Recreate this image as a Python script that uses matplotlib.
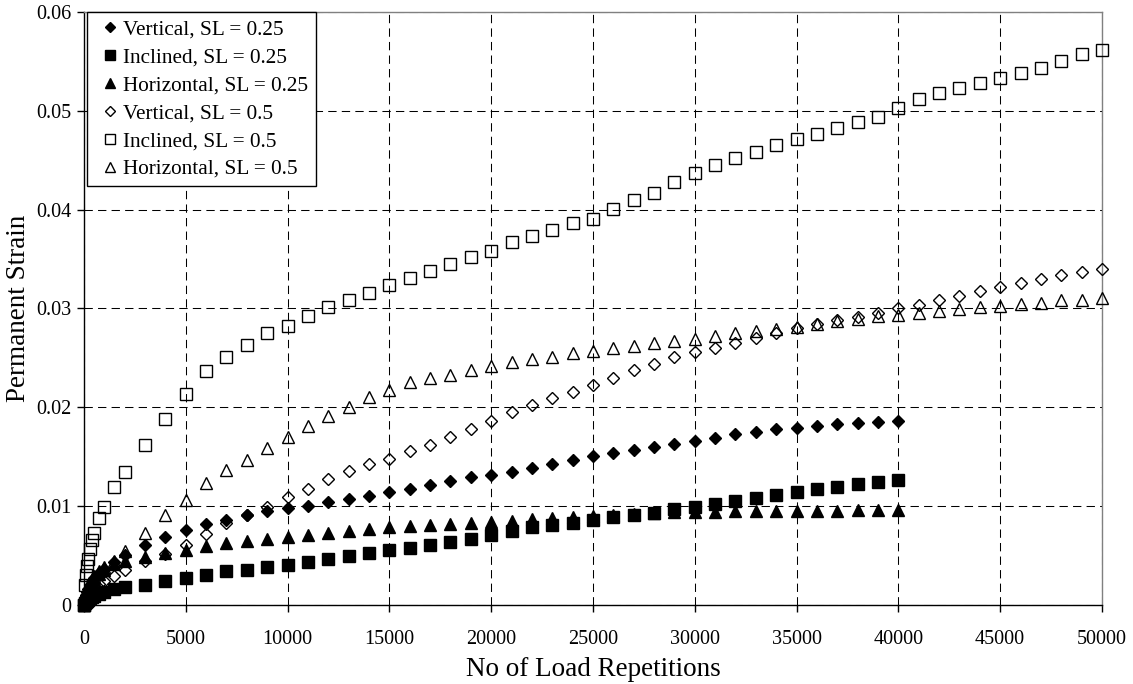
import matplotlib
matplotlib.use("Agg")
import matplotlib.pyplot as plt

plt.rcParams['font.family'] = ['Liberation Serif', 'DejaVu Serif']

############## Load repetitions ##############
reps = [0, 50, 100, 150, 200, 300, 400, 500, 750, 1000, 1500, 2000,
        3000, 4000, 5000, 6000, 7000, 8000, 9000, 10000,
        11000, 12000, 13000, 14000, 15000, 16000, 17000, 18000, 19000, 20000,
        21000, 22000, 23000, 24000, 25000, 26000, 27000, 28000, 29000, 30000,
        31000, 32000, 33000, 34000, 35000, 36000, 37000, 38000, 39000, 40000,
        41000, 42000, 43000, 44000, 45000, 46000, 47000, 48000, 49000, 50000]
reps_025 = reps[:50]   # SL = 0.25 tests stopped at 40000

############## Permanent strain, SL = 0.25 ##############
vert_025 = [0, 0.0006, 0.0010, 0.0013, 0.0016, 0.0020, 0.0024, 0.0027, 0.0032, 0.0036, 0.0044, 0.0051,
            0.0061, 0.0069, 0.0076, 0.0082, 0.0086, 0.0091, 0.0095, 0.0098,
            0.0100, 0.0104, 0.0107, 0.0110, 0.0114, 0.0117, 0.0121, 0.0125, 0.0129, 0.0132,
            0.0135, 0.0139, 0.0143, 0.0147, 0.0151, 0.0154, 0.0157, 0.0160, 0.0163, 0.0166,
            0.0169, 0.0173, 0.0175, 0.0178, 0.0179, 0.0181, 0.0183, 0.0184, 0.0185, 0.0186]
incl_025 = [0, 0.0002, 0.0003, 0.0004, 0.0005, 0.0007, 0.0008, 0.0009, 0.0011, 0.0013, 0.0016, 0.0018,
            0.0020, 0.0024, 0.0027, 0.0030, 0.0034, 0.0035, 0.0038, 0.0040,
            0.0044, 0.0047, 0.0050, 0.0053, 0.0056, 0.0058, 0.0061, 0.0064, 0.0067, 0.0071,
            0.0075, 0.0079, 0.0081, 0.0083, 0.0086, 0.0089, 0.0091, 0.0093, 0.0097, 0.0099,
            0.0102, 0.0105, 0.0108, 0.0111, 0.0114, 0.0117, 0.0119, 0.0122, 0.0124, 0.0126]
horz_025 = [0, 0.0006, 0.0010, 0.0013, 0.0016, 0.0020, 0.0023, 0.0026, 0.0031, 0.0035, 0.0041, 0.0045,
            0.0049, 0.0053, 0.0056, 0.0060, 0.0063, 0.0065, 0.0067, 0.0069,
            0.0071, 0.0073, 0.0075, 0.0077, 0.0079, 0.0080, 0.0081, 0.0082, 0.0083, 0.0084,
            0.0085, 0.0087, 0.0088, 0.0089, 0.0090, 0.0091, 0.0092, 0.0093, 0.0094, 0.0094,
            0.0094, 0.0095, 0.0095, 0.0095, 0.0095, 0.0095, 0.0095, 0.0096, 0.0096, 0.0096]

############## Permanent strain, SL = 0.5 ##############
vert_05 = [0, 0.0004, 0.0007, 0.0009, 0.0011, 0.0014, 0.0016, 0.0018, 0.0021, 0.0024, 0.0029, 0.0035,
           0.0045, 0.0052, 0.0061, 0.0072, 0.0083, 0.0091, 0.0099, 0.0109,
           0.0117, 0.0127, 0.0136, 0.0143, 0.0148, 0.0156, 0.0162, 0.0170, 0.0178, 0.0186,
           0.0195, 0.0202, 0.0209, 0.0216, 0.0223, 0.0230, 0.0238, 0.0244, 0.0251, 0.0256,
           0.0260, 0.0265, 0.0270, 0.0275, 0.0280, 0.0284, 0.0288, 0.0291, 0.0295, 0.0300,
           0.0304, 0.0309, 0.0313, 0.0318, 0.0322, 0.0326, 0.0330, 0.0334, 0.0337, 0.0340]
incl_05 = [0, 0.0020, 0.0030, 0.0039, 0.0047, 0.0057, 0.0066, 0.0073, 0.0088, 0.0099, 0.0119, 0.0135,
           0.0162, 0.0188, 0.0213, 0.0237, 0.0251, 0.0263, 0.0275, 0.0282,
           0.0292, 0.0301, 0.0309, 0.0316, 0.0324, 0.0331, 0.0338, 0.0345, 0.0352, 0.0358,
           0.0367, 0.0373, 0.0379, 0.0386, 0.0391, 0.0401, 0.0410, 0.0417, 0.0428, 0.0437,
           0.0445, 0.0452, 0.0458, 0.0465, 0.0471, 0.0477, 0.0483, 0.0489, 0.0494, 0.0503,
           0.0512, 0.0518, 0.0523, 0.0528, 0.0533, 0.0538, 0.0543, 0.0550, 0.0557, 0.0562]
horz_05 = [0, 0.0008, 0.0012, 0.0015, 0.0018, 0.0022, 0.0026, 0.0029, 0.0034, 0.0038, 0.0045, 0.0055,
           0.0073, 0.0091, 0.0106, 0.0123, 0.0137, 0.0147, 0.0159, 0.0170,
           0.0181, 0.0191, 0.0200, 0.0210, 0.0218, 0.0226, 0.0230, 0.0233, 0.0238, 0.0242,
           0.0246, 0.0249, 0.0251, 0.0255, 0.0257, 0.0260, 0.0262, 0.0265, 0.0267, 0.0269,
           0.0272, 0.0275, 0.0277, 0.0279, 0.0281, 0.0284, 0.0287, 0.0289, 0.0292, 0.0293,
           0.0295, 0.0297, 0.0299, 0.0301, 0.0303, 0.0305, 0.0306, 0.0309, 0.0309, 0.0311]

labels = ['Vertical, SL = 0.25', 'Inclined, SL = 0.25', 'Horizontal, SL = 0.25',
          'Vertical, SL = 0.5', 'Inclined, SL = 0.5', 'Horizontal, SL = 0.5']

#################### Generate Plot #############################
fig = plt.figure(figsize=(11.33, 6.84), dpi=100)
ax = fig.add_axes([0.0741, 0.1155, 0.8985, 0.867])

series = [
    (reps_025, vert_025, 'D', 6.5, 'black'),
    (reps_025, incl_025, 's', 8.0, 'black'),
    (reps_025, horz_025, '^', 8.5, 'black'),
    (reps, vert_05, 'D', 6.5, 'none'),
    (reps, incl_05, 's', 8.0, 'none'),
    (reps, horz_05, '^', 8.5, 'none'),
]
for (xs, ys, mk, ms, fc), lab in zip(series, labels):
    ax.plot(xs, ys, linestyle='none', marker=mk, markersize=ms,
            markerfacecolor=fc, markeredgecolor='black', markeredgewidth=1.0,
            label=lab, clip_on=False, zorder=3)

ax.set_xlim(0, 50000)
ax.set_ylim(0, 0.06)
ax.set_xticks(range(0, 50001, 5000))
ax.set_yticks([0, 0.01, 0.02, 0.03, 0.04, 0.05, 0.06])
ax.set_yticklabels(['0', '0.01', '0.02', '0.03', '0.04', '0.05', '0.06'])

ax.grid(True, color='black', linestyle=(0, (8, 5)), linewidth=0.75)
ax.set_axisbelow(True)

for side in ['left', 'bottom']:
    ax.spines[side].set_color('black')
    ax.spines[side].set_linewidth(1.0)
for side in ['top', 'right']:
    ax.spines[side].set_color('#808080')
    ax.spines[side].set_linewidth(1.0)

ax.tick_params(direction='out', length=5, width=1.0, labelsize=14.5)
ax.tick_params(axis='x', pad=13)
ax.tick_params(axis='y', pad=4)

ax.set_xlabel('No of Load Repetitions', fontsize=19.5, labelpad=6)
ax.set_ylabel('Permanent Strain', fontsize=19.5, labelpad=4)

leg = ax.legend(loc='upper left', bbox_to_anchor=(0.003, 1.0), borderaxespad=0,
                fontsize=15.3, numpoints=1, handlelength=1.5, handletextpad=-0.15,
                labelspacing=0.38, borderpad=0.35, fancybox=False,
                framealpha=1, edgecolor='black', markerscale=0.85)
leg.get_frame().set_linewidth(1.0)

plt.savefig('out.png', dpi=100)
